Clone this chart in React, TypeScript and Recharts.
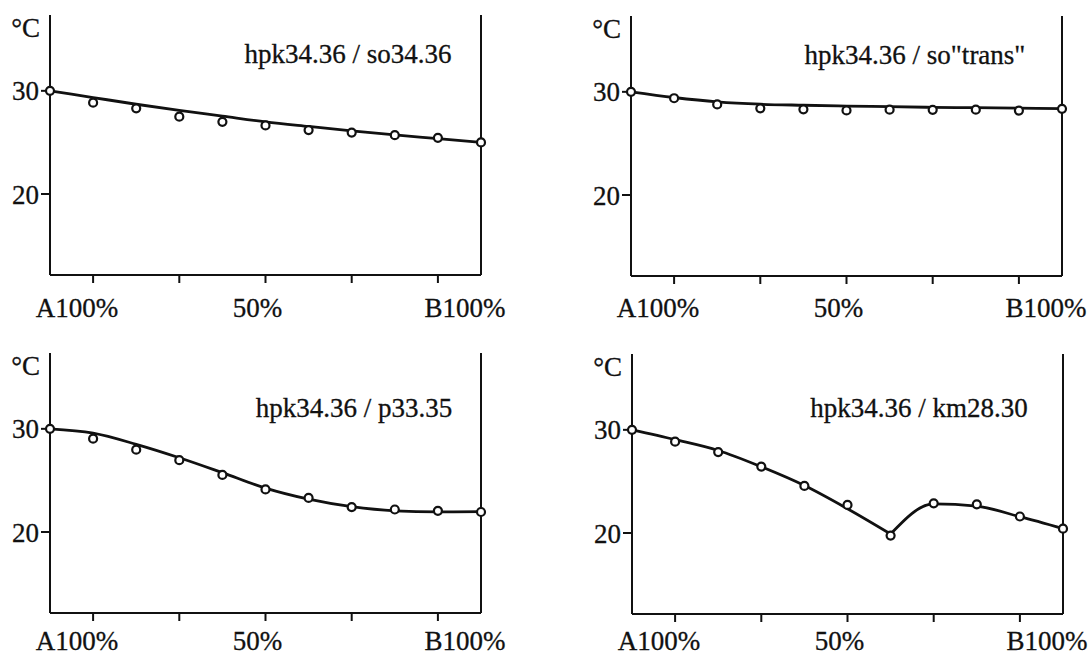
import { ComposedChart, Line, XAxis, YAxis, ReferenceLine } from 'recharts';

// 11 readings along the transect from A to B
const steps = [0, 1, 2, 3, 4, 5, 6, 7, 8, 9, 10];
const xTicks = [1, 3, 5, 7, 9];
const xTickLabels: Record<number, string> = { 1: 'A100%', 5: '50%', 9: 'B100%' };
const yTicks = [20, 30];
const unitLabel = '°C';

// hpk34.36 / so34.36
const soMeasured = [30.0, 28.85, 28.3, 27.5, 27.0, 26.65, 26.2, 25.95, 25.7, 25.45, 25.0];
const soFit = [30.0, 29.35, 28.7, 28.1, 27.55, 27.0, 26.55, 26.12, 25.73, 25.37, 25.0];

// hpk34.36 / so"trans"
const transMeasured = [30.0, 29.38, 28.78, 28.4, 28.3, 28.2, 28.27, 28.26, 28.27, 28.18, 28.35];
const transFit = [30.0, 29.45, 29.03, 28.8, 28.7, 28.62, 28.56, 28.5, 28.46, 28.42, 28.37];

// hpk34.36 / p33.35
const pMeasured = [30.0, 29.05, 27.98, 26.96, 25.53, 24.13, 23.3, 22.41, 22.18, 22.05, 21.94];
const pFit = [30.0, 29.58, 28.5, 27.2, 25.75, 24.25, 23.18, 22.45, 22.05, 21.95, 21.97];

// hpk34.36 / km28.30 (fitted curve has a kink at the 7th reading)
const kmMeasured = [30.0, 28.85, 27.84, 26.44, 24.56, 22.72, 19.75, 22.88, 22.78, 21.6, 20.42];
const kmFit = [30.0, 29.05, 28.0, 26.42, 24.6, 22.35, 19.9, 22.82, 22.6, 21.58, 20.42];

const INK = '#111';
const FONT = '"Liberation Serif", "Times New Roman", serif';
const FONT_SIZE = 27;
const PLOT_W = 431;
const PLOT_H = 260;
const Y_DOMAIN: [number, number] = [12.15, 37.35];
const labelShift: Record<number, number> = { 1: -16, 5: -8, 9: 27 };

const PositionTick = ({ x, y, payload, drop }: any) => {
  const text = xTickLabels[payload.value];
  if (!text) return <g />;
  return (
    <text
      x={x + (labelShift[payload.value] || 0)}
      y={y + drop}
      textAnchor="middle"
      fontFamily={FONT}
      fontSize={FONT_SIZE}
      fill={INK}
      stroke={INK}
      strokeWidth={0.3}
    >
      {text}
    </text>
  );
};

interface PanelProps {
  title: string;
  measured: number[];
  fit: number[];
  breakAt?: number;
  left: number;
  top: number;
  height: number;
  plotLeft: number;
  plotTop: number;
  titleCenter: number;
  titleDrop: number;
  labelDrop: number;
}

function Panel({
  title,
  measured,
  fit,
  breakAt,
  left,
  top,
  height,
  plotLeft,
  plotTop,
  titleCenter,
  titleDrop,
  labelDrop,
}: PanelProps) {
  const width = 544;
  const rows = steps.map((step, i) => ({
    step,
    measured: measured[i],
    fit: breakAt === undefined || i <= breakAt ? fit[i] : null,
    tail: breakAt !== undefined && i >= breakAt ? fit[i] : null,
  }));

  return (
    <div style={{ position: 'absolute', left, top }}>
      <ComposedChart
        width={width}
        height={height}
        data={rows}
        margin={{ top: plotTop, right: width - plotLeft - PLOT_W, bottom: 0, left: plotLeft - 50 }}
      >
        <XAxis
          type="number"
          dataKey="step"
          domain={[0, 10]}
          ticks={xTicks}
          interval={0}
          height={height - plotTop - PLOT_H}
          axisLine={{ stroke: INK, strokeWidth: 2 }}
          tickLine={{ stroke: INK, strokeWidth: 2 }}
          tickSize={8}
          tickMargin={0}
          tick={(props: any) => <PositionTick {...props} drop={labelDrop} />}
        />
        <YAxis
          type="number"
          domain={Y_DOMAIN}
          ticks={yTicks}
          width={50}
          axisLine={{ stroke: INK, strokeWidth: 2 }}
          tickLine={{ stroke: INK, strokeWidth: 2 }}
          tickSize={9}
          tickMargin={2}
          tick={{ fill: INK, fontSize: FONT_SIZE, fontFamily: FONT, stroke: INK, strokeWidth: 0.3 }}
          label={{
            content: () => (
              <text
                x={plotLeft - 10}
                y={plotTop + 22}
                textAnchor="end"
                fontFamily={FONT}
                fontSize={FONT_SIZE}
                fill={INK}
                stroke={INK}
                strokeWidth={0.3}
              >
                {unitLabel}
              </text>
            ),
          }}
        />
        <ReferenceLine
          x={10}
          stroke={INK}
          strokeWidth={2}
          label={{
            content: () => (
              <text
                x={plotLeft + titleCenter}
                y={plotTop + titleDrop}
                textAnchor="middle"
                fontFamily={FONT}
                fontSize={FONT_SIZE}
                fill={INK}
                stroke={INK}
                strokeWidth={0.3}
              >
                {title}
              </text>
            ),
          }}
        />
        <Line
          type="monotone"
          dataKey="fit"
          stroke={INK}
          strokeWidth={2.8}
          dot={false}
          activeDot={false}
          isAnimationActive={false}
        />
        {breakAt !== undefined && (
          <Line
            type="monotone"
            dataKey="tail"
            stroke={INK}
            strokeWidth={2.8}
            dot={false}
            activeDot={false}
            isAnimationActive={false}
          />
        )}
        <Line
          dataKey="measured"
          stroke="none"
          dot={{ r: 4, fill: '#fff', stroke: INK, strokeWidth: 2.2 }}
          activeDot={false}
          isAnimationActive={false}
        />
      </ComposedChart>
    </div>
  );
}

export default function App() {
  return (
    <div
      style={{
        position: 'absolute',
        left: 0,
        top: 0,
        width: 1088,
        height: 657,
        background: '#fff',
        overflow: 'hidden',
      }}
    >
      <Panel
        title="hpk34.36 / so34.36"
        measured={soMeasured}
        fit={soFit}
        left={0}
        top={0}
        height={330}
        plotLeft={50}
        plotTop={15}
        titleCenter={298}
        titleDrop={48}
        labelDrop={34}
      />
      <Panel
        title={'hpk34.36 / so"trans"'}
        measured={transMeasured}
        fit={transFit}
        left={544}
        top={0}
        height={330}
        plotLeft={87}
        plotTop={16}
        titleCenter={284}
        titleDrop={48}
        labelDrop={33}
      />
      <Panel
        title="hpk34.36 / p33.35"
        measured={pMeasured}
        fit={pFit}
        left={0}
        top={330}
        height={327}
        plotLeft={50}
        plotTop={23}
        titleCenter={304}
        titleDrop={64}
        labelDrop={29}
      />
      <Panel
        title="hpk34.36 / km28.30"
        measured={kmMeasured}
        fit={kmFit}
        breakAt={6}
        left={544}
        top={330}
        height={327}
        plotLeft={88}
        plotTop={24}
        titleCenter={287}
        titleDrop={63}
        labelDrop={28}
      />
    </div>
  );
}
